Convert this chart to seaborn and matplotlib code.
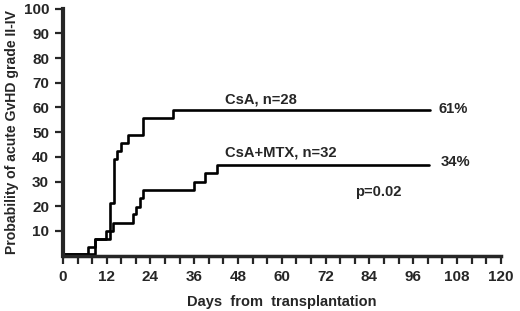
import matplotlib
matplotlib.use("Agg")
import matplotlib.pyplot as plt
import seaborn as sns
import pandas as pd
from matplotlib.ticker import MultipleLocator

# step curves (days, cumulative %)
csa_days = [0, 6.9, 8.9, 11.9, 12.9, 14.0, 14.9, 15.8, 17.9, 22.0, 30.2, 100.5]
csa_vals = [0.8, 3.5, 6.8, 10.0, 21.2, 39.0, 42.2, 45.5, 49.0, 55.8, 59.0, 59.0]

mtx_days = [0, 8.9, 12.9, 13.8, 19.1, 19.9, 21.1, 22.0, 36.0, 38.9, 42.1, 100.2]
mtx_vals = [0.8, 6.6, 9.8, 13.4, 16.8, 19.9, 23.2, 26.6, 30.0, 33.4, 36.7, 36.7]

x_ticks = [0, 12, 24, 36, 48, 60, 72, 84, 96, 108, 120]
y_ticks = [10, 20, 30, 40, 50, 60, 70, 80, 90, 100]

csa = pd.DataFrame({"day": csa_days, "pct": csa_vals})
mtx = pd.DataFrame({"day": mtx_days, "pct": mtx_vals})

sns.set_style("ticks")
plt.rcParams["font.family"] = ["Liberation Sans", "DejaVu Sans"]
plt.rcParams["font.weight"] = "bold"

fig = plt.figure(figsize=(5.2, 3.11), dpi=100)
ax = fig.add_axes([0.121, 0.178, 0.842, 0.794])

for df in (csa, mtx):
    sns.lineplot(data=df, x="day", y="pct", ax=ax, color="black", lw=1.9,
                 drawstyle="steps-post", estimator=None, sort=False)

ax.set_xlim(0, 120)
ax.set_ylim(0, 100)
ax.set_xticks(x_ticks)
ax.xaxis.set_minor_locator(MultipleLocator(4))
ax.set_yticks(y_ticks)
ax.tick_params(axis="both", which="major", direction="out", length=6, width=1.6,
               labelsize=11, pad=4)
ax.tick_params(axis="x", which="minor", direction="out", length=6, width=1.6)
for lab in ax.get_xticklabels() + ax.get_yticklabels():
    lab.set_fontweight("bold")

sns.despine(ax=ax)
ax.spines["left"].set_linewidth(3)
ax.spines["bottom"].set_linewidth(2.5)

ax.set_xlabel("Days  from  transplantation", fontsize=10.5, fontweight="bold", labelpad=8)
ax.set_ylabel("Probability of acute GvHD grade II-IV", fontsize=10.1, fontweight="bold", labelpad=3)

ax.text(44.4, 63.4, "CsA, n=28", fontsize=10.6, fontweight="bold", va="center")
ax.text(103, 59.4, "61%", fontsize=10.6, fontweight="bold", va="center")
ax.text(44.4, 41.7, "CsA+MTX, n=32", fontsize=10.6, fontweight="bold", va="center")
ax.text(103.5, 37.8, "34%", fontsize=10.6, fontweight="bold", va="center")
ax.text(80.2, 25.7, "p=0.02", fontsize=10.6, fontweight="bold", va="center")

plt.savefig("out.png", dpi=100)
